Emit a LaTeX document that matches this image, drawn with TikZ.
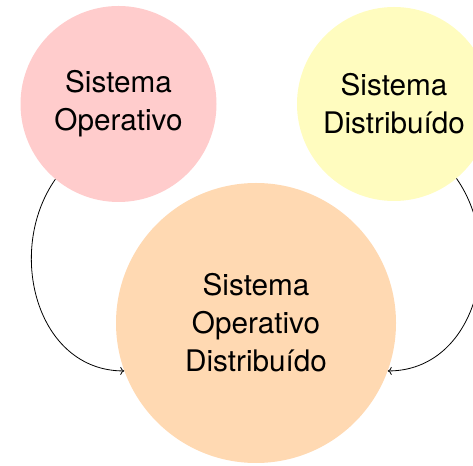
\documentclass[tikz,border=0pt]{standalone}
\usepackage{fontspec}
\setmainfont{TeX Gyre Heros}
\usetikzlibrary{arrows.meta}
\begin{document}
\begin{tikzpicture}[x = 1pt, y = 1pt,
    sistema/.style = {circle, inner sep = 0pt, align = center,
      font = \fontsize{29.7}{38}\selectfont},
    flecha/.style = {-{To[length = 4pt, width = 8pt]}, line width = .8pt}]
  \useasboundingbox (0,0) rectangle (473,465);

  % draws the systems
  \node[sistema, fill = red!20, minimum size = 196pt]
    (so) at (118.5,361) {Sistema\\Operativo};
  \node[sistema, fill = yellow!25, minimum size = 194pt]
    (sd) at (394,361) {Sistema\\Distribuído};
  \node[sistema, fill = orange!30, minimum size = 280pt]
    (sod) at (256,142) {Sistema\\Operativo\\Distribuído};

  % draws the arrows
  \draw[flecha]
    (so.230) to[out = 235, in = 180, looseness = 1.1] (sod.200);
  \draw[flecha]
    (sd.310) to[out = -55, in = 0, looseness = 1.1] (sod.340);
\end{tikzpicture}
\end{document}
